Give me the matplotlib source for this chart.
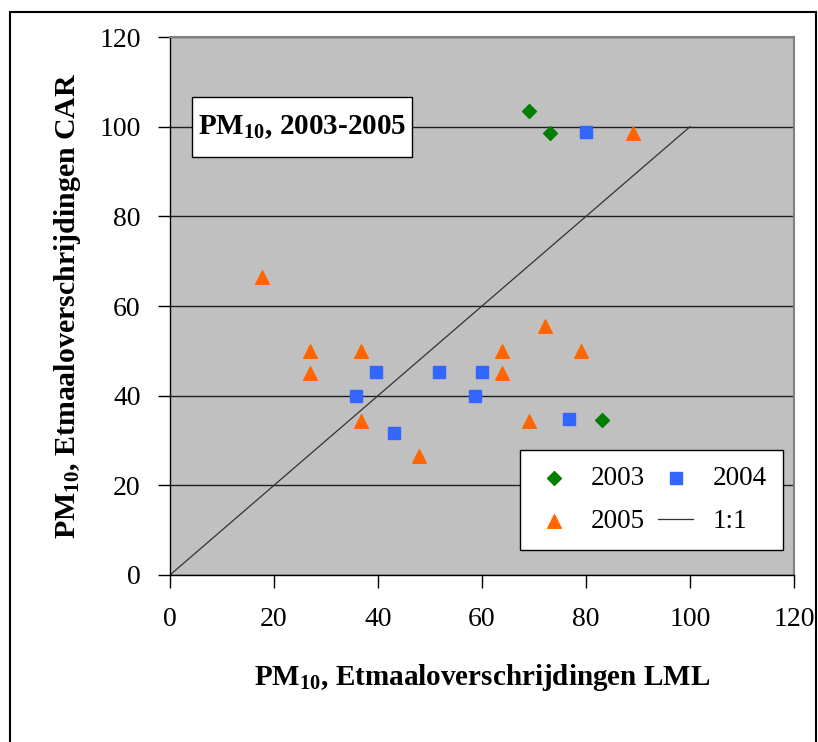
import matplotlib
matplotlib.use("Agg")
import matplotlib.pyplot as plt
from matplotlib.patches import Rectangle

plt.rcParams['font.family'] = ['Liberation Serif', 'DejaVu Serif']
plt.rcParams['mathtext.fontset'] = 'custom'
plt.rcParams['mathtext.rm'] = 'Liberation Serif'
plt.rcParams['mathtext.it'] = 'Liberation Serif:italic'
plt.rcParams['mathtext.bf'] = 'Liberation Serif:bold'

# data
x_2003 = [69, 73, 83]
y_2003 = [103.5, 98.5, 34.5]

x_2004 = [80, 35.7, 39.7, 43, 51.8, 60, 58.7, 76.7]
y_2004 = [98.8, 39.9, 45.3, 31.7, 45.3, 45.3, 39.9, 34.8]

x_2005 = [17.7, 27, 27, 36.8, 36.8, 47.8, 63.9, 63.9, 69, 72.1, 79, 89.1]
y_2005 = [66.5, 50, 45, 50, 34.4, 26.5, 50, 45, 34.4, 55.6, 50, 98.6]

line_11 = [0, 100]
ticks = [0, 20, 40, 60, 80, 100, 120]

fig = plt.figure(figsize=(8.18, 7.42), dpi=100)
ax = fig.add_axes([0.2078, 0.2251, 0.7629, 0.725])
ax.set_facecolor('#c0c0c0')

# horizontal gridlines
ax.set_axisbelow(True)
ax.yaxis.grid(True, color='#202020', linewidth=1.0)

ax.plot(line_11, line_11, color='#333333', linewidth=0.9, label='1:1', zorder=2)
ax.scatter(x_2003, y_2003, marker='D', s=50, color='#007f00', label='2003', zorder=3)
ax.scatter(x_2004, y_2004, marker='s', s=75, color='#3366ff', label='2004', zorder=3)
ax.scatter(x_2005, y_2005, marker='^', s=95, color='#ff6600', label='2005', zorder=3)

ax.set_xlim(0, 120)
ax.set_ylim(0, 120)
ax.set_xticks(ticks)
ax.set_yticks(ticks)
ax.tick_params(axis='both', labelsize=20, length=9, width=1, direction='out')
ax.tick_params(axis='x', pad=14)
ax.tick_params(axis='y', pad=12)

for side in ['top', 'right']:
    ax.spines[side].set_color('#808080')
    ax.spines[side].set_linewidth(1.5)
for side in ['left', 'bottom']:
    ax.spines[side].set_color('#000000')
    ax.spines[side].set_linewidth(1.0)

ax.set_xlabel('PM$_{\\mathbf{10}}$, Etmaaloverschrijdingen LML', fontsize=21, fontweight='bold', labelpad=22)
ax.set_ylabel('PM$_{\\mathbf{10}}$, Etmaaloverschrijdingen CAR', fontsize=21.5, fontweight='bold', labelpad=12)

# title box inside the plot
ax.add_patch(Rectangle((0.0353, 0.777), 0.353, 0.111, transform=ax.transAxes,
                       facecolor='white', edgecolor='black', linewidth=1, zorder=4))
ax.text(0.2115, 0.833, 'PM$_{\\mathbf{10}}$, 2003-2005', transform=ax.transAxes,
        fontsize=21, fontweight='bold', va='center', ha='center', zorder=5)

handles, labels = ax.get_legend_handles_labels()
order = [1, 3, 2, 0]
leg = ax.legend([handles[i] for i in order], [labels[i] for i in order],
                ncol=2, loc='lower right', bbox_to_anchor=(0.982, 0.046),
                borderaxespad=0, fontsize=19.5, frameon=True, fancybox=False,
                edgecolor='black', framealpha=1, handlelength=1.3, handletextpad=0.7,
                columnspacing=0.5, borderpad=0.6, labelspacing=0.65)
leg.get_frame().set_linewidth(1)

# outer frame of the figure
fig.patches.append(Rectangle((0.0122, -0.01), 0.9854, 0.994, transform=fig.transFigure,
                             fill=False, edgecolor='black', linewidth=1.5))

fig.savefig('out.png', dpi=100)
